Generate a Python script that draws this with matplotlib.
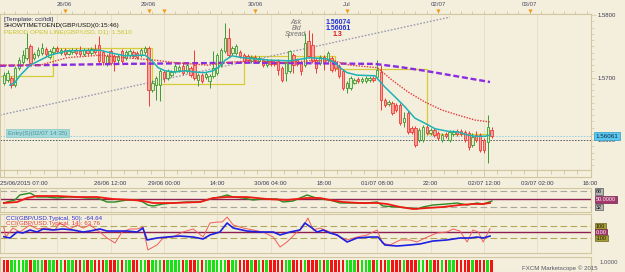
import numpy as np
import matplotlib
matplotlib.use("Agg")
import matplotlib.pyplot as plt

# =========================
# 설정
# =========================
W, H = 625, 272
BG = "#F4EFDC"
FRAME = "#D2C6A0"
GRID = "#E6DDC3"
FONT = "Liberation Sans"
plt.rcParams["font.family"] = [FONT, "DejaVu Sans"]

# =========================
# 데이터 (hourly GBP/USD)
# =========================
opens = [1.5692, 1.5696, 1.5700, 1.5688, 1.5716, 1.5725, 1.5732, 1.5751, 1.5732, 1.5736,
         1.5740, 1.5746, 1.5733, 1.5741, 1.5748, 1.5740, 1.5744, 1.5738, 1.5741, 1.5744,
         1.5743, 1.5738, 1.5744, 1.5740, 1.5746, 1.5752, 1.5741, 1.5724, 1.5743, 1.5735,
         1.5728, 1.5743, 1.5732, 1.5736, 1.5741, 1.5740, 1.5736, 1.5741, 1.5748, 1.5680,
         1.5688, 1.5688, 1.5709, 1.5700, 1.5704, 1.5711, 1.5712, 1.5719, 1.5711, 1.5716,
         1.5720, 1.5696, 1.5704, 1.5701, 1.5695, 1.5703, 1.5708, 1.5720, 1.5743, 1.5764,
         1.5740, 1.5740, 1.5741, 1.5736, 1.5735, 1.5727, 1.5733, 1.5727, 1.5728, 1.5720,
         1.5727, 1.5725, 1.5727, 1.5716, 1.5708, 1.5711, 1.5736, 1.5728, 1.5724, 1.5720,
         1.5759, 1.5752, 1.5728, 1.5724, 1.5733, 1.5728, 1.5732, 1.5724, 1.5719, 1.5711,
         1.5683, 1.5683, 1.5692, 1.5698, 1.5695, 1.5695, 1.5696, 1.5700, 1.5701, 1.5709,
         1.5664, 1.5658, 1.5659, 1.5656, 1.5656, 1.5629, 1.5643, 1.5619, 1.5619, 1.5600,
         1.5600, 1.5621, 1.5611, 1.5616, 1.5611, 1.5600, 1.5610, 1.5600, 1.5610, 1.5614,
         1.5614, 1.5613, 1.5611, 1.5592, 1.5608, 1.5608, 1.5600, 1.5597, 1.5616]
closes = [1.5704, 1.5708, 1.5688, 1.5716, 1.5728, 1.5736, 1.5748, 1.5724, 1.5738, 1.5744,
          1.5748, 1.5738, 1.5743, 1.5748, 1.5743, 1.5744, 1.5738, 1.5743, 1.5744, 1.5740,
          1.5738, 1.5744, 1.5740, 1.5746, 1.5741, 1.5727, 1.5725, 1.5735, 1.5724, 1.5727,
          1.5735, 1.5727, 1.5741, 1.5743, 1.5735, 1.5733, 1.5744, 1.5748, 1.5680, 1.5692,
          1.5700, 1.5711, 1.5700, 1.5711, 1.5709, 1.5719, 1.5717, 1.5708, 1.5720, 1.5704,
          1.5700, 1.5704, 1.5695, 1.5706, 1.5703, 1.5716, 1.5736, 1.5744, 1.5764, 1.5736,
          1.5748, 1.5751, 1.5735, 1.5727, 1.5728, 1.5733, 1.5728, 1.5732, 1.5720, 1.5727,
          1.5722, 1.5722, 1.5712, 1.5696, 1.5724, 1.5743, 1.5720, 1.5722, 1.5711, 1.5756,
          1.5735, 1.5727, 1.5716, 1.5733, 1.5725, 1.5740, 1.5712, 1.5716, 1.5703, 1.5683,
          1.5692, 1.5700, 1.5696, 1.5695, 1.5698, 1.5700, 1.5700, 1.5696, 1.5712, 1.5664,
          1.5656, 1.5661, 1.5643, 1.5648, 1.5627, 1.5635, 1.5613, 1.5613, 1.5592, 1.5616,
          1.5621, 1.5611, 1.5616, 1.5608, 1.5603, 1.5608, 1.5606, 1.5613, 1.5613, 1.5610,
          1.5610, 1.5600, 1.5589, 1.5605, 1.5600, 1.5584, 1.5584, 1.5621, 1.5606]
highs = [1.5709, 1.5712, 1.5703, 1.5719, 1.5733, 1.5744, 1.5772, 1.5754, 1.5741, 1.5749,
         1.5756, 1.5749, 1.5746, 1.5751, 1.5751, 1.5748, 1.5748, 1.5746, 1.5748, 1.5748,
         1.5751, 1.5748, 1.5748, 1.5749, 1.5754, 1.5767, 1.5744, 1.5738, 1.5746, 1.5738,
         1.5738, 1.5746, 1.5744, 1.5746, 1.5744, 1.5743, 1.5748, 1.5751, 1.5751, 1.5696,
         1.5703, 1.5714, 1.5712, 1.5714, 1.5712, 1.5722, 1.5720, 1.5725, 1.5724, 1.5719,
         1.5744, 1.5708, 1.5708, 1.5709, 1.5706, 1.5743, 1.5740, 1.5748, 1.5788, 1.5780,
         1.5751, 1.5754, 1.5744, 1.5740, 1.5738, 1.5736, 1.5736, 1.5735, 1.5732, 1.5730,
         1.5730, 1.5728, 1.5730, 1.5719, 1.5727, 1.5744, 1.5740, 1.5732, 1.5727, 1.5772,
         1.5777, 1.5772, 1.5732, 1.5736, 1.5736, 1.5743, 1.5735, 1.5728, 1.5722, 1.5714,
         1.5695, 1.5703, 1.5700, 1.5701, 1.5701, 1.5703, 1.5703, 1.5703, 1.5728, 1.5720,
         1.5667, 1.5664, 1.5663, 1.5659, 1.5659, 1.5645, 1.5647, 1.5622, 1.5622, 1.5619,
         1.5624, 1.5624, 1.5619, 1.5619, 1.5614, 1.5611, 1.5613, 1.5616, 1.5616, 1.5618,
         1.5618, 1.5616, 1.5614, 1.5611, 1.5614, 1.5611, 1.5603, 1.5640, 1.5621]
lows = [1.5688, 1.5693, 1.5683, 1.5685, 1.5712, 1.5722, 1.5728, 1.5720, 1.5728, 1.5733,
        1.5736, 1.5733, 1.5730, 1.5738, 1.5740, 1.5736, 1.5735, 1.5736, 1.5738, 1.5736,
        1.5735, 1.5735, 1.5736, 1.5736, 1.5738, 1.5724, 1.5720, 1.5719, 1.5720, 1.5711,
        1.5724, 1.5724, 1.5728, 1.5733, 1.5732, 1.5730, 1.5733, 1.5738, 1.5655, 1.5677,
        1.5664, 1.5663, 1.5693, 1.5696, 1.5701, 1.5708, 1.5709, 1.5704, 1.5708, 1.5701,
        1.5696, 1.5687, 1.5692, 1.5698, 1.5683, 1.5700, 1.5704, 1.5717, 1.5740, 1.5733,
        1.5736, 1.5736, 1.5732, 1.5724, 1.5725, 1.5724, 1.5725, 1.5724, 1.5717, 1.5717,
        1.5719, 1.5719, 1.5704, 1.5693, 1.5695, 1.5708, 1.5708, 1.5719, 1.5704, 1.5717,
        1.5732, 1.5724, 1.5708, 1.5720, 1.5712, 1.5725, 1.5709, 1.5711, 1.5700, 1.5680,
        1.5675, 1.5680, 1.5690, 1.5692, 1.5692, 1.5692, 1.5693, 1.5693, 1.5698, 1.5648,
        1.5653, 1.5655, 1.5640, 1.5645, 1.5624, 1.5621, 1.5610, 1.5610, 1.5589, 1.5597,
        1.5597, 1.5608, 1.5608, 1.5605, 1.5600, 1.5597, 1.5603, 1.5597, 1.5606, 1.5606,
        1.5606, 1.5597, 1.5584, 1.5589, 1.5597, 1.5581, 1.5579, 1.5563, 1.5603]

# moving averages, read at points (bar index, price)
fast_x = [1.6, 2.9, 4.2, 6.9, 9.5, 12.1, 16.6, 25.2, 27.9, 31.8, 37.1, 38.9, 40.5, 42.3, 44.9,
          47.6, 50.2, 52.8, 54.9, 56.2, 58.1, 59.9, 62.5, 69.9, 75.1, 80.4, 84.8, 86.9, 88.2,
          90.1, 92.7, 97.4, 100, 102.7, 105.3, 107.9, 110.5, 113.2, 116.6, 119.2, 121.8,
          123.7, 126.3, 127.6]
fast_y = [1.5688, 1.5692, 1.5703, 1.5720, 1.5728, 1.5736, 1.5743, 1.5744, 1.5740, 1.5735,
          1.5736, 1.5727, 1.5716, 1.5711, 1.5709, 1.5711, 1.5709, 1.5708, 1.5711, 1.5716,
          1.5728, 1.5735, 1.5732, 1.5728, 1.5727, 1.5732, 1.5730, 1.5724, 1.5716, 1.5708,
          1.5704, 1.5703, 1.5685, 1.5669, 1.5653, 1.5635, 1.5627, 1.5618, 1.5614, 1.5613,
          1.5608, 1.5606, 1.5606, 1.5608]
mid_x = [-1, 9.5, 16.6, 25.2, 31.8, 39.7, 44.9, 53.6, 58.1, 64.6, 73.3, 80.4, 86.4, 90.9,
         98, 101.9, 106.1, 110.5, 115, 119.2, 123.7, 127.6]
mid_y = [1.5720, 1.5720, 1.5732, 1.5736, 1.5732, 1.5728, 1.5724, 1.5720, 1.5724, 1.5727,
         1.5724, 1.5727, 1.5727, 1.5720, 1.5716, 1.5696, 1.5677, 1.5661, 1.5648, 1.5640,
         1.5632, 1.5629]
slow_x = [-1, 30.5, 64.6, 97.4, 104, 110.5, 127.6]
slow_y = [1.5719, 1.5722, 1.5724, 1.5722, 1.5717, 1.5711, 1.5693]

# period open line (D1)
period_x = [-1, 13, 39, 63, 87, 111, 127.6]
period_open = [1.5703, 1.5748, 1.5690, 1.5735, 1.5714, 1.5610, 1.5610]

trend_x = [-1, 117.1]
trend_y = [1.5640, 1.5797]

bid, ask, entry = 1.56061, 1.56074, 1.5600

# TDI
tdi_g_x = [0, 0.8, 2.9, 4.2, 6.9, 8.7, 11.3, 14, 16.6, 19.2, 21.8, 24.5, 27.1, 29.2, 32.3,
           35, 36.5, 37.8, 39.2, 41.8, 44.4, 48.1, 51.5, 54.1, 56.7, 58.6, 60.2, 62.8, 65.4,
           68, 71.7, 73.3, 75.9, 77.7, 79.6, 81.2, 83, 85.6, 88.2, 91.7, 95.3, 98, 99.5,
           103.2, 106.6, 108.4, 110, 112.6, 116.3, 119, 121.6, 124.2, 125.8, 128.1]
tdi_g_y = [41.5, 43.8, 48.4, 59.9, 64.5, 55.3, 55.3, 53, 55.3, 55.3, 53, 53, 43.8, 43.8, 48.4,
           48.4, 43.8, 36.9, 34.6, 39.2, 41.5, 43.8, 43.8, 50.7, 55.3, 59.9, 55.3, 53, 48.4,
           50.7, 50.7, 43.8, 46.1, 53, 59.9, 55.3, 50.7, 48.4, 41.5, 41.5, 41.5, 43.8, 34.6,
           32.3, 30, 27.7, 32.3, 36.9, 39.2, 41.5, 36.9, 41.5, 39.2, 46.1]
tdi_r_x = [0, 3.5, 6.1, 8.7, 14, 19.2, 24.5, 28.7, 33.9, 36.5, 39.2, 44.4, 51.5, 54.9, 58.6,
           63.8, 69.1, 74.3, 79.6, 83, 85.6, 89, 93.5, 98, 100.6, 104, 107.4, 111.1, 115.3,
           119.7, 123.1, 125.8, 127.6]
tdi_r_y = [41.5, 43.8, 53, 57.6, 57.6, 55.3, 55.3, 50.7, 48.4, 46.1, 41.5, 41.5, 43.8, 53,
           55.3, 55.3, 50.7, 48.4, 53, 53, 48.4, 43.8, 41.5, 41.5, 39.2, 32.3, 27.7, 30, 32.3,
           36.9, 39.2, 39.2, 41.5]

# CCI
cci50_x = [0, 1.6, 3.5, 5, 6.9, 8.7, 10.3, 12.9, 15.5, 18.2, 20.8, 22.6, 25.2, 27.1, 29.7,
           32.3, 35, 36.5, 37.6, 40.2, 42.8, 46.2, 49.7, 52.3, 54.1, 56.7, 58.6, 60.2, 63.8,
           67.2, 70.7, 72.5, 75.1, 77.7, 79, 80.9, 82.2, 83.8, 85.6, 87.5, 90.1, 92.7, 96.1,
           98.2, 100, 103.2, 106.6, 109.2, 112.6, 116.3, 119.7, 122.4, 124.2, 125.8, 127.6]
cci50_y = [-76, -98, 5, -12, 40, 5, 57, 40, 57, 40, 5, 22, 57, 22, 22, 22, 5, 74, -132, -98,
           -81, -64, -81, -115, -46, 5, 160, 74, 22, 5, 5, -46, 5, 40, 160, 74, 5, 40, -12,
           -46, -167, -98, -81, -81, -218, -236, -218, -201, -150, -132, -98, -98, -81, -98,
           -65]
cci14_x = [0, 0.5, 2.4, 4.2, 6.9, 8.7, 11.3, 13.4, 14.7, 17.4, 19.2, 20.8, 22.6, 25.2, 27.1,
           29.2, 31, 33.1, 35, 36.5, 37.8, 40.2, 41.8, 44.4, 47, 49.7, 52.3, 54.1, 56, 57.3,
           58.6, 60.2, 62.8, 65.4, 68, 70.7, 72.5, 74.3, 77, 78.5, 79.8, 81.2, 83, 85.6, 88.2,
           90.1, 92.7, 95.3, 98, 99.3, 101.4, 104, 106.6, 108.4, 111.1, 113.7, 116.3, 117.9,
           119.7, 121.6, 123.1, 124.5, 125.8, 127.6]
cci14_y = [91, -81, 74, 5, 126, 57, 74, 40, 160, 57, 126, 74, 126, 5, -98, -184, 5, 57, 57,
           91, -304, -218, -98, -81, 5, 57, -81, 160, 177, 177, 263, 126, 74, 40, 5, -81,
           -253, -167, 5, 91, 246, 40, 74, 5, -81, -132, -81, -46, 40, -184, -218, -132,
           -132, -167, -81, -12, 5, 57, 22, -167, 40, 5, -167, 64]

# 하단 막대 (1 = green, 0 = red)
bar_sign = [0, 0, 1, 1, 1, 1, 1, 0, 1, 1, 1, 0, 1, 1, 0, 1, 0, 1, 1, 0,
            0, 1, 0, 1, 0, 0, 0, 1, 0, 0, 1, 0, 1, 1, 0, 0, 1, 1, 0, 1,
            1, 1, 0, 1, 1, 1, 1, 0, 1, 0, 0, 1, 0, 1, 1, 1, 1, 1, 1, 0,
            1, 1, 0, 0, 0, 1, 0, 1, 0, 1, 0, 0, 0, 0, 1, 1, 0, 0, 0, 1,
            0, 0, 0, 1, 0, 1, 0, 0, 0, 0, 1, 1, 1, 0, 1, 1, 1, 0, 1, 0,
            0, 1, 0, 0, 0, 1, 0, 0, 0, 1, 1, 0, 1, 0, 0, 1, 0, 1, 1, 0,
            0, 0, 0, 1, 0, 0, 0, 1, 0]

time_ticks = [-1, 28, 42, 56, 70, 84, 98, 112, 126, 140, 154]
time_labels = ["25/06/2015 07:00", "26/06 12:00", "29/06 00:00", "14:00", "30/06 04:00",
               "18:00", "01/07 08:00", "22:00", "02/07 12:00", "03/07 02:00", "16:00"]
day_marks = [16, 38, 42, 66, 90, 114, 138]
day_labels = ["26/06", "29/06", "", "30/06", "Jul", "02/07", "03/07"]

XMIN, XMAX = -1, 154.1


# =========================
# 레이아웃
# =========================
def rect(top, bottom):
    return [0, 1 - bottom / H, 591 / W, (bottom - top) / H]


fig = plt.figure(figsize=(W / 100, H / 100), dpi=100, facecolor=BG)

ax_top = fig.add_axes(rect(0, 14))
ax = fig.add_axes(rect(14, 170))
ax_rul = fig.add_axes(rect(170, 177))
ax_tdi = fig.add_axes(rect(188, 212))
ax_cci = fig.add_axes(rect(214, 253))
ax_bar = fig.add_axes(rect(257, 272))

for a in [ax_top, ax, ax_rul, ax_tdi, ax_cci, ax_bar]:
    a.set_facecolor(BG)
    a.set_xlim(XMIN, XMAX)
    for s in a.spines.values():
        s.set_color(FRAME)
        s.set_linewidth(0.8)
    a.tick_params(axis="x", bottom=False, labelbottom=False)
    a.tick_params(axis="y", left=False, labelleft=False)

grid_x = np.arange(0, 155, 14)
for a in [ax, ax_tdi, ax_cci]:
    for gx in grid_x:
        a.axvline(gx, color=GRID, lw=0.6, zorder=0)

# 상단 날짜 눈금
ax_top.set_ylim(0, 14)
ax_top.invert_yaxis()
for s in ["top", "left", "right"]:
    ax_top.spines[s].set_visible(False)
ax_top.vlines(np.arange(0, 154, 3), 10.5, 14, color=FRAME, lw=0.6)
ax_top.scatter(day_marks, [11] * len(day_marks), marker="v", s=9, color="#F29A1A", zorder=3, lw=0)
for dx, dl in zip(day_marks, day_labels):
    ax_top.text(dx, 4.5, dl, ha="center", va="center", fontsize=4.4, color="#4A4A68")

# 하단 시간 눈금
ax_rul.set_ylim(0, 1)
ax_rul.vlines(np.arange(0, 155, 3.5), 0.45, 1, color=FRAME, lw=0.6)
ax_rul.vlines(grid_x, 0, 1, color=FRAME, lw=0.6)
ax_rul.set_xticks(time_ticks)
ax_rul.set_xticklabels(time_labels, fontsize=4.4, color="#3A3A55")
ax_rul.tick_params(axis="x", labelbottom=True, length=0, pad=2.6)
ax_rul.get_xticklabels()[0].set_ha("left")

# =========================
# 메인 차트
# =========================
ax.set_ylim(1.5552, 1.5802)
idx = np.arange(len(closes))
o = np.array(opens)
c = np.array(closes)
hi = np.array(highs)
lo = np.array(lows)
up = c > o
dn = ~up
BULL, BULL_FACE = "#3C9A34", "#E3EDC6"
BEAR, BEAR_FACE = "#EE3B36", "#F6A39C"
ax.vlines(idx[up], lo[up], hi[up], color=BULL, lw=0.7, zorder=3)
ax.vlines(idx[dn], lo[dn], hi[dn], color=BEAR, lw=0.7, zorder=3)
body_lo = np.minimum(o, c)
body_h = np.maximum(np.abs(c - o), 0.00008)
ax.bar(idx[up], body_h[up], bottom=body_lo[up], width=0.62, color=BULL_FACE,
       edgecolor=BULL, lw=0.6, zorder=4)
ax.bar(idx[dn], body_h[dn], bottom=body_lo[dn], width=0.62, color=BEAR_FACE,
       edgecolor=BEAR, lw=0.6, zorder=4)

ax.step(period_x, period_open, where="post", color="#D6CB3A", lw=0.9, zorder=2)
ax.plot(trend_x, trend_y, color="#9C9CB4", lw=1.0, ls=(0, (1.2, 1.2)), zorder=2)
ax.plot(slow_x, slow_y, color="#8A2BE2", lw=1.7, ls=(0, (2.5, 1.2)), zorder=5)
ax.plot(mid_x, mid_y, color="#E33A3A", lw=1.0, ls=(0, (1, 1)), zorder=5)
ax.plot(fast_x, fast_y, color="#1CB2B6", lw=1.1, zorder=6)

ax.axhline(bid, color="#8ECFE6", lw=0.7, ls=(0, (1.5, 1.5)), zorder=1)
ax.axhline(entry, color="#555560", lw=0.7, ls=(0, (1.5, 1.5)), zorder=1)

ax.yaxis.tick_right()
ax.set_yticks([1.5800, 1.5700, 1.5600])
ax.set_yticklabels(["1.5800", "1.5700", "1.5600"], fontsize=4.3, color="#3A3A55")
ax.set_yticks(np.arange(1.5560, 1.5800, 0.0010), minor=True)
ax.tick_params(axis="y", which="both", right=True, labelright=True, length=3.5, width=0.5,
               color=FRAME, pad=1.2)
ax.tick_params(axis="y", which="minor", length=2)
ax.text(1.008, bid, "1.56061", transform=ax.get_yaxis_transform(), fontsize=4.5,
        color="#0A2A44", va="center", ha="left", zorder=10, clip_on=False,
        bbox=dict(boxstyle="square,pad=0.25", fc="#5CC7EE", ec="#2E98C8", lw=0.5))


def ftext(x, y, s, **kw):
    fig.text(x / W, 1 - y / H, s, **kw)


ftext(4, 19.5, "[Template: cci/tdi]", fontsize=4.6, color="#2A2A50", va="center")
ftext(4, 26, "SHOWTIMETOEND(GBP/USD)(0:15:46)", fontsize=4.6, color="#111111", va="center")
ftext(4, 32.5, "PERIOD OPEN LINE(GBP/USD, D1): 1.5610", fontsize=4.6, color="#C9C22A",
      va="center")
ftext(301, 23, "Ask", fontsize=4.8, color="#6E6E6E", ha="right", va="center", style="italic")
ftext(301, 29, "Bid", fontsize=4.8, color="#6E6E6E", ha="right", va="center", style="italic")
ftext(306, 35, "Spread", fontsize=4.8, color="#6E6E6E", ha="right", va="center", style="italic")
ftext(326, 23, "1.56074", fontsize=5, color="#1E2FD8", va="center", weight="bold")
ftext(326, 29, "1.56061", fontsize=5, color="#1E2FD8", va="center", weight="bold")
ftext(333, 35, "1.3", fontsize=5, color="#E01A1A", va="center", weight="bold")
ftext(8, 133, "Entry(S)(02/07 14:35)", fontsize=4.4, color="#4C9298", va="center",
      bbox=dict(boxstyle="square,pad=0.3", fc="#A4DADC", ec="#86C7CB", lw=0.5))


def side_label(a, y, txt, fc, tc, ec):
    a.text(1.008, y, txt, transform=a.get_yaxis_transform(), fontsize=3.9, color=tc,
           va="center", ha="left", clip_on=False,
           bbox=dict(boxstyle="square,pad=0.15", fc=fc, ec=ec, lw=0.5))


# =========================
# TDI
# =========================
ax_tdi.set_ylim(20.8, 76)
ax_tdi.axhline(68, color="#A9A69C", lw=0.8, ls=(0, (6, 3)))
ax_tdi.axhline(32, color="#A9A69C", lw=0.8, ls=(0, (6, 3)))
ax_tdi.axhline(50, color="#8E2050", lw=1.0)
ax_tdi.plot(tdi_g_x, tdi_g_y, color="#2C8A22", lw=1.0, zorder=3)
ax_tdi.plot(tdi_r_x, tdi_r_y, color="#F01A14", lw=1.3, zorder=4)
side_label(ax_tdi, 68, "68", "#B4B4B4", "#111111", "#555555")
side_label(ax_tdi, 50, "50.0000", "#A3376E", "#FFFFFF", "#702048")
side_label(ax_tdi, 32, "32", "#B4B4B4", "#111111", "#555555")

# =========================
# CCI
# =========================
ax_cci.set_ylim(-356, 315)
ax_cci.axhline(100, color="#B1A85A", lw=0.8, ls=(0, (6, 3)))
ax_cci.axhline(-100, color="#B1A85A", lw=0.8, ls=(0, (6, 3)))
ax_cci.axhline(0, color="#8E2050", lw=1.0)
ax_cci.plot(cci14_x, cci14_y, color="#F25C5C", lw=0.7, zorder=3)
ax_cci.plot(cci50_x, cci50_y, color="#1F1FE0", lw=1.2, zorder=4)
ax_cci.text(0.01, 0.89, "CCI(GBP/USD.Typical, 50): -64.64", transform=ax_cci.transAxes,
            fontsize=4.5, color="#3030D0", va="center")
ax_cci.text(0.01, 0.76, "CCI(GBP/USD.Typical, 14): 63.76", transform=ax_cci.transAxes,
            fontsize=4.5, color="#E04040", va="center")
side_label(ax_cci, 100, "100", "#A69C38", "#1A1A00", "#6C6420")
side_label(ax_cci, 0, "0.00", "#A3376E", "#FFFFFF", "#702048")
side_label(ax_cci, -100, "-100", "#A69C38", "#1A1A00", "#6C6420")

# =========================
# 하단 막대
# =========================
ax_bar.set_ylim(0, 1.25)
bar_colors = ["#16E016" if s else "#F21414" for s in bar_sign]
ax_bar.bar(np.arange(len(bar_sign)), [1.0] * len(bar_sign), width=0.65, color=bar_colors,
           lw=0, zorder=3)
ax_bar.text(1.015, 0.75, "1.0000", transform=ax_bar.get_yaxis_transform(), fontsize=4.3,
            color="#555566", va="center", ha="left", clip_on=False)
ftext(522, 268, "FXCM Marketscope \u00a9 2015", fontsize=4.4, color="#555566", va="center")

fig.savefig("out.png", dpi=100, facecolor=BG)
print("saved out.png")
